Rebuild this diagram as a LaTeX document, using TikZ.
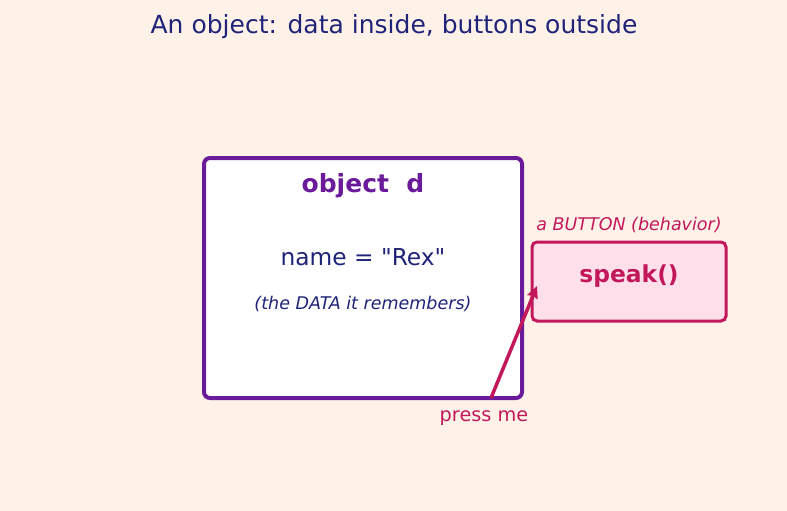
\documentclass[tikz,border=0pt]{standalone}
\usepackage{fontspec}
\setmainfont{DejaVu Sans}
\usetikzlibrary{arrows.meta}
\definecolor{bg}{HTML}{FEF2E8}
\definecolor{navy}{HTML}{1F2478}
\definecolor{purp}{HTML}{6A1B9A}
\definecolor{crim}{HTML}{C2185B}
\definecolor{pinkfill}{HTML}{FFE0EA}
\begin{document}
\begin{tikzpicture}[x=1pt,y=-1pt,
  objbox/.style={draw=purp,line width=4pt,fill=white,rounded corners=6pt},
  btnbox/.style={draw=crim,line width=3pt,fill=pinkfill,rounded corners=5pt},
  lbl/.style={inner sep=0pt,anchor=center}]
\fill[bg] (0,0) rectangle (787,511);
\useasboundingbox (0,0) rectangle (787,511);
\node[lbl,text=navy,font=\fontsize{25}{30}\selectfont] (title) at (394,27) {An object: data inside, buttons outside};
\draw[objbox] (204,158) rectangle (522,398);
\node[lbl,text=purp,font=\fontsize{25}{30}\selectfont\bfseries] (objname) at (363,186) {object\ \ d};
\node[lbl,text=navy,font=\fontsize{23.3}{28}\selectfont] (data) at (363,257) {name = \textquotedbl Rex\textquotedbl};
\node[lbl,text=navy,font=\fontsize{17.5}{21}\selectfont\itshape] (note) at (363,304) {(the DATA it remembers)};
\draw[btnbox] (532,242) rectangle (726,321);
\node[lbl,text=crim,font=\fontsize{23.4}{28}\selectfont\bfseries] (speak) at (629,276) {speak()};
\node[lbl,text=crim,font=\fontsize{17.5}{21}\selectfont\itshape] (btnlbl) at (629,225) {a BUTTON (behavior)};
\node[lbl,text=crim,font=\fontsize{19.3}{23}\selectfont] (press) at (484,418) {press me};
\coordinate (from) at (491,398);
\coordinate (to) at (537,286);
\draw[crim,line width=3.5pt,-{Stealth[length=12pt,width=11pt,inset=1.5pt]}] (from) -- (to);
\end{tikzpicture}
\end{document}
